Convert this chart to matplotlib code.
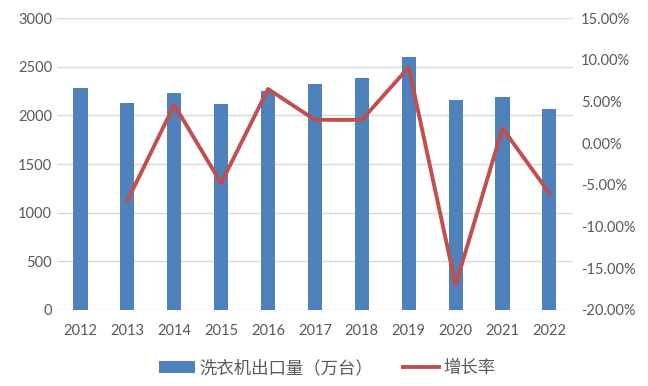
import matplotlib
matplotlib.use("Agg")
import matplotlib.pyplot as plt
from matplotlib.ticker import FuncFormatter, MultipleLocator

plt.rcParams['font.family'] = ['Lato', 'Noto Sans CJK SC', 'DejaVu Sans']

years = ['2012', '2013', '2014', '2015', '2016', '2017', '2018', '2019', '2020', '2021', '2022']
exports = [2280, 2126, 2229, 2116, 2250, 2321, 2383, 2598, 2157, 2190, 2064]
growth_years = years[1:]
growth = [-6.9, 4.6, -4.8, 6.5, 2.8, 2.8, 9.1, -17.0, 1.8, -6.0]

bar_color = '#4F81BD'
line_color = '#C0504D'
text_color = '#595959'
grid_color = '#D9D9D9'

fig = plt.figure(figsize=(6.48, 3.86), dpi=100)
ax = fig.add_axes([0.088, 0.197, 0.796, 0.756])
x = list(range(len(years)))
bars = ax.bar(x, exports, width=0.3, color=bar_color, zorder=2, label='洗衣机出口量（万台）')
ax.set_ylim(0, 3000)
ax.yaxis.set_major_locator(MultipleLocator(500))
ax.set_xlim(-0.5, len(years) - 0.5)
ax.set_xticks(x)
ax.set_xticklabels(years)
ax.grid(axis='y', color=grid_color, linewidth=1, zorder=0)
for s in ax.spines.values():
    s.set_visible(False)
ax.tick_params(axis='both', length=0, colors=text_color, labelsize=10.5)
ax.tick_params(axis='x', pad=10)

ax2 = ax.twinx()
gx = [years.index(y) for y in growth_years]
line, = ax2.plot(gx, growth, color=line_color, linewidth=2.8, zorder=3, label='增长率')
ax2.set_ylim(-20, 15)
ax2.yaxis.set_major_locator(MultipleLocator(5))
ax2.yaxis.set_major_formatter(FuncFormatter(lambda v, p: f'{v:.2f}%'))
for s in ax2.spines.values():
    s.set_visible(False)
ax2.tick_params(axis='both', length=0, colors=text_color, labelsize=10.5)
ax2.tick_params(axis='y', pad=6)

leg = fig.legend([bars, line], ['洗衣机出口量（万台）', '增长率'], loc='center',
                 bbox_to_anchor=(0.505, 0.047), ncol=2, frameon=False,
                 fontsize=12.5, handlelength=2.1, columnspacing=1.7, handletextpad=0.25)
for t in leg.get_texts():
    t.set_color(text_color)

fig.savefig('out.png', dpi=100)
